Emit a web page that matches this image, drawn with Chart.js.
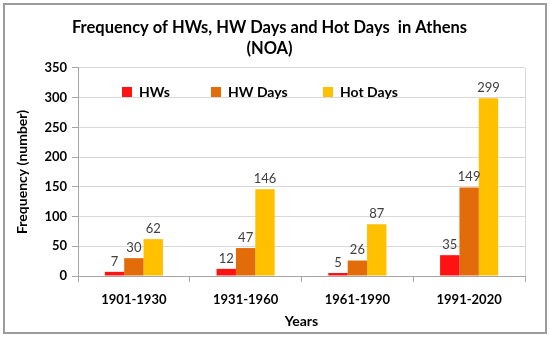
<!DOCTYPE html>
<html>
<head>
<meta charset="utf-8">
<script src="https://cdn.jsdelivr.net/npm/chart.js@4.4.0/dist/chart.umd.min.js"></script>
<style>
    body { margin: 0; background: #fff; }
    #wrap { width: 550px; height: 338px; }
</style>
</head>
<body>
<div id="wrap"><canvas id="chart" width="550" height="338"></canvas></div>
<script>
const periods = ["1901-1930", "1931-1960", "1961-1990", "1991-2020"];
const hws = [7, 12, 5, 35];
const hwDays = [30, 47, 26, 149];
const hotDays = [62, 146, 87, 299];
const yTicks = [0, 50, 100, 150, 200, 250, 300, 350];

const FONT = "Lato, 'Open Sans', sans-serif";

// outer frame + right border of plot
const framePlugin = {
    id: "frame",
    afterDraw(chart) {
        const ctx = chart.ctx;
        const a = chart.chartArea;
        ctx.save();
        ctx.strokeStyle = "#d9d9d9";
        ctx.lineWidth = 1;
        ctx.beginPath();
        ctx.moveTo(a.right + 0.5, a.top);
        ctx.lineTo(a.right + 0.5, a.bottom);
        ctx.stroke();
        ctx.strokeStyle = "#9c9c9c";
        ctx.lineWidth = 2;
        ctx.strokeRect(4, 4, 542, 329);
        ctx.restore();
    },
};

// value labels above bars
const labelPlugin = {
    id: "valueLabels",
    afterDatasetsDraw(chart) {
        const ctx = chart.ctx;
        ctx.save();
        ctx.font = "13px " + FONT;
        ctx.fillStyle = "#404040";
        ctx.textAlign = "center";
        ctx.textBaseline = "bottom";
        chart.data.datasets.forEach((ds, i) => {
            chart.getDatasetMeta(i).data.forEach((bar, j) => {
                ctx.fillText(ds.data[j], bar.x, bar.y - 4);
            });
        });
        ctx.restore();
    },
};

// legend inside the plot area
const legendPlugin = {
    id: "innerLegend",
    afterDraw(chart) {
        const ctx = chart.ctx;
        const items = [
            { x: 122, label: "HWs" },
            { x: 211, label: "HW Days" },
            { x: 323, label: "Hot Days" },
        ];
        ctx.save();
        ctx.font = "bold 14px " + FONT;
        ctx.textBaseline = "middle";
        items.forEach((it, i) => {
            ctx.fillStyle = chart.data.datasets[i].backgroundColor;
            ctx.fillRect(it.x, 87, 10, 10);
            ctx.fillStyle = "#000";
            ctx.fillText(it.label, it.x + 17, 92);
        });
        ctx.restore();
    },
};

new Chart(document.getElementById("chart"), {
    type: "bar",
    data: {
        labels: periods,
        datasets: [
            { label: "HWs", data: hws, backgroundColor: "#ff1212" },
            { label: "HW Days", data: hwDays, backgroundColor: "#e36c0a" },
            { label: "Hot Days", data: hotDays, backgroundColor: "#ffc000" },
        ],
    },
    options: {
        responsive: false,
        animation: false,
        layout: { padding: { left: 14, right: 25, top: 7, bottom: 8 } },
        datasets: {
            bar: { categoryPercentage: 0.52, barPercentage: 1.0 },
        },
        plugins: {
            legend: { display: false },
            tooltip: { enabled: false },
            title: {
                display: true,
                text: ["Frequency of HWs, HW Days and Hot Days  in Athens", "(NOA)"],
                color: "#000",
                font: { family: FONT, size: 16.5, weight: "bold", lineHeight: 1.27 },
                padding: { top: 10, bottom: 9 },
            },
        },
        scales: {
            x: {
                afterFit(scale) {
                    scale.height = 54;
                },
                grid: {
                    offset: true,
                    drawOnChartArea: false,
                    tickLength: 6,
                    tickColor: "#a6a6a6",
                },
                border: { color: "#a6a6a6" },
                ticks: {
                    color: "#000",
                    font: { family: FONT, size: 13, weight: "bold" },
                    padding: 10,
                },
                title: {
                    display: true,
                    text: "Years",
                    color: "#000",
                    font: { family: FONT, size: 14, weight: "bold" },
                    padding: { top: 2, bottom: 0 },
                },
            },
            y: {
                min: 0,
                max: 350,
                afterBuildTicks(scale) {
                    scale.ticks = yTicks.map((v) => ({ value: v }));
                },
                afterFit(scale) {
                    scale.width = 64;
                },
                grid: {
                    color: "#d9d9d9",
                    tickColor: "#a6a6a6",
                    tickLength: 6,
                },
                border: { color: "#a6a6a6" },
                ticks: {
                    color: "#000",
                    font: { family: FONT, size: 13, weight: "bold" },
                    padding: 5,
                },
                title: {
                    display: true,
                    text: "Frequency (number)",
                    color: "#000",
                    font: { family: FONT, size: 14, weight: "bold" },
                    padding: { top: 0, bottom: 4 },
                },
            },
        },
    },
    plugins: [framePlugin, labelPlugin, legendPlugin],
});
</script>
</body>
</html>
